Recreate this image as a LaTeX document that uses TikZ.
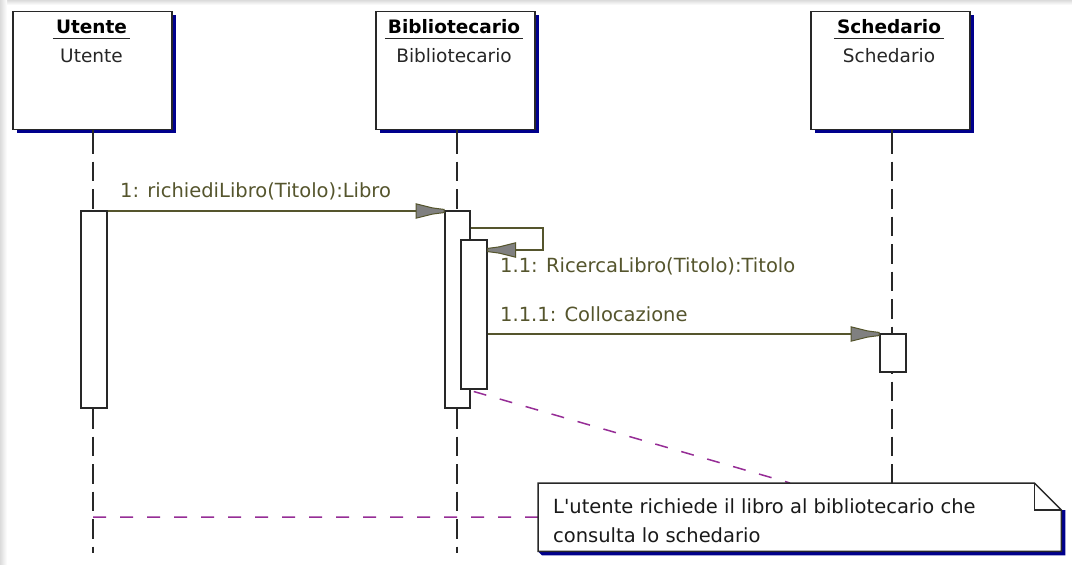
\documentclass[tikz,border=0pt]{standalone}
\usepackage{fontspec}
\setmainfont{DejaVu Sans}
\usetikzlibrary{shadows,calc}
\definecolor{navyshadow}{RGB}{0,0,140}
\definecolor{msgcol}{RGB}{85,85,45}
\definecolor{headfill}{RGB}{128,128,128}
\definecolor{notelink}{RGB}{150,45,150}
\definecolor{framegray}{RGB}{40,40,40}
\begin{document}
\begin{tikzpicture}[x=1pt,y=-1pt,
  objbox/.style={draw=framegray, line width=1.5pt, fill=white, inner sep=0pt,
    minimum width=159pt, minimum height=118pt, anchor=north west,
    drop shadow={shadow xshift=4pt, shadow yshift=-4pt, fill=navyshadow, opacity=1}},
  hdrtext/.style={font=\fontsize{18.5}{22}\selectfont\bfseries, inner sep=0pt, anchor=base},
  nametext/.style={font=\fontsize{18.5}{22}\selectfont, inner sep=0pt, anchor=base, text=black!85},
  act/.style={draw=framegray, line width=1.5pt, fill=white, inner sep=0pt, anchor=north west},
  lifesolid/.style={draw=framegray, line width=1.5pt},
  lifedash/.style={draw=framegray, line width=1.5pt, dash pattern=on 19.5pt off 8pt},
  msg/.style={draw=msgcol, line width=1.6pt},
  msglabel/.style={font=\fontsize{19.5}{23}\selectfont, text=msgcol, inner sep=0pt, anchor=base west},
  notetext/.style={font=\fontsize{19.5}{23}\selectfont, text=black!90, inner sep=0pt, anchor=base west},
  notelinkline/.style={draw=notelink, line width=1.5pt, dash pattern=on 13pt off 14pt},
  umlhead/.pic={\filldraw[draw=msgcol, fill=headfill, line width=1pt]
     (0,-1.6) -- (-8,-2.6) -- (-12,-3.2) -- (-28,-7.2) -- (-28,7.2)
     -- (-12,3.2) -- (-8,2.6) -- (0,1.6) -- cycle;}
]
% canvas and its faint frame edges
\useasboundingbox (0,0) rectangle (1072,565);
\fill[white] (0,0) rectangle (1072,565);
\shade[top color=black!14, bottom color=white] (0,0) rectangle (1072,5);
\shade[left color=black!14, right color=white] (0,0) rectangle (7,565);

% objects
\node[objbox] (ubox) at (12,10.5) {};
\node[objbox] (bbox) at (375,10.5) {};
\node[objbox] (sbox) at (810,10.5) {};

\node[hdrtext] (uh) at (91.5,33) {Utente};
\node[hdrtext] (bh) at (454,33) {Bibliotecario};
\node[hdrtext] (sh) at (889,33) {Schedario};
\foreach \h in {uh,bh,sh}
  \draw[line width=1.6pt, black!85] ($(\h.base west)+(-3,5.5)$) -- ($(\h.base east)+(3,5.5)$);
\node[nametext] (un) at (91.5,62.5) {Utente};
\node[nametext] (bn) at (454,62.5) {Bibliotecario};
\node[nametext] (sn) at (889,62.5) {Schedario};

% lifelines
\coordinate (utop) at (93,129.5);   \coordinate (uend) at (93,553);
\coordinate (btop) at (457,129.5);  \coordinate (bend) at (457,553);
\coordinate (stop) at (892,129.5);  \coordinate (send) at (892,483);
\foreach \t/\e in {utop/uend,btop/bend,stop/send}{
  \draw[lifesolid] (\t) -- ($(\t)+(0,24)$);
  \draw[lifedash] ($(\t)+(0,32)$) -- (\e);
}

% activations
\node[act, minimum width=26pt, minimum height=197pt] (ua) at (80,210) {};
\node[act, minimum width=25pt, minimum height=197pt] (ba) at (444,210) {};
\node[act, minimum width=26pt, minimum height=149pt] (bi) at (460,239) {};
\node[act, minimum width=26pt, minimum height=38pt]  (sa) at (879,333) {};

% messages
\draw[msg] ($(ua.north east)+(0,1)$) -- ($(ba.north west)+(0,1)$);
\path ($(ba.north west)+(0,1)$) pic {umlhead};
\node[msglabel] (m1) at (120,197) {1: richiediLibro(Titolo):Libro};

\coordinate (loopR) at (543,228);
\draw[msg] (ba.east |- loopR) -- (loopR) -- (loopR |- 0,250) -- (bi.east |- 0,250);
\path (bi.east |- 0,250) pic[xscale=-1] {umlhead};
\node[msglabel] (m2) at (500,272.5) {1.1: RicercaLibro(Titolo):Titolo};

\draw[msg] (bi.east |- sa.north) ++(0,1) -- ($(sa.north west)+(0,1)$);
\path ($(sa.north west)+(0,1)$) pic {umlhead};
\node[msglabel] (m3) at (500,321) {1.1.1: Collocazione};

% note
\node[inner sep=0pt, minimum width=523pt, minimum height=68pt, anchor=north west] (note) at (538,483) {};
\coordinate (nlink) at ($(note.north west)+(252,0)$);
\draw[notelinkline] ($(bi.south)+(0,2)$) -- (nlink);
\draw[notelinkline] (93,517) -- (note.west);
\fill[navyshadow] ($(note.north east)+(4,27)$) -- ($(note.south east)+(4,4)$) -- ($(note.south west)+(4,4)$)
  -- (note.south west) -- (note.south east) -- ($(note.north east)+(0,27)$) -- cycle;
\filldraw[fill=white, draw=framegray, line width=1.5pt]
  (note.north west) -- ($(note.north east)+(-27,0)$) -- ($(note.north east)+(0,27)$)
  -- (note.south east) -- (note.south west) -- cycle;
\draw[framegray, line width=1.5pt] ($(note.north east)+(-27,0)$) -- ($(note.north east)+(-27,27)$) -- ($(note.north east)+(0,27)$);
\node[notetext] (nt1) at (553,513) {L\textquotesingle utente richiede il libro al bibliotecario che};
\node[notetext] (nt2) at (553,542) {consulta lo schedario};
\end{tikzpicture}
\end{document}
